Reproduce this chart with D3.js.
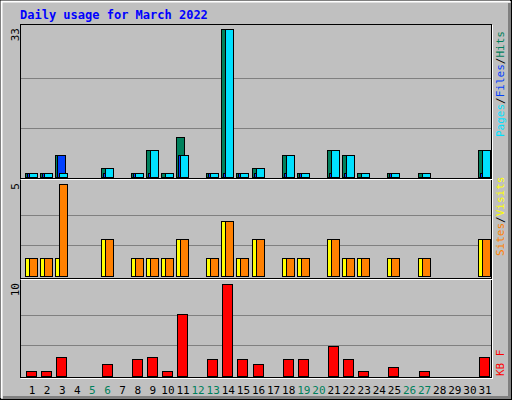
<!DOCTYPE html>
<html><head><meta charset="utf-8">
<script src="https://cdn.jsdelivr.net/npm/d3@7"></script>
<style>body{margin:0;background:#fff}svg{display:block}text{font-family:"DejaVu Sans Mono",monospace}</style>
</head><body>
<script>
const days = d3.range(1, 32);
const weekends = [5,6,12,13,19,20,26,27];
const hits   = [1,1,5,0,0,2,0,1,6,1,9,0,1,33,1,2,0,5,1,0,6,5,1,0,1,0,1,0,0,0,6];
const files  = [1,1,5,0,0,1,0,1,1,0,5,0,1,1,1,1,0,1,1,0,1,1,0,0,1,0,0,0,0,0,1];
const pages  = [1,1,1,0,0,2,0,1,6,1,5,0,1,33,1,2,0,5,1,0,6,5,1,0,1,0,1,0,0,0,6];
const sites  = [1,1,1,0,0,2,0,1,1,1,2,0,1,3,1,2,0,1,1,0,2,1,1,0,1,0,1,0,0,0,2];
const visits = [1,1,5,0,0,2,0,1,1,1,2,0,1,3,1,2,0,1,1,0,2,1,1,0,1,0,1,0,0,0,2];
const kbytes = [0.5,0.5,2.1,0,0,1.3,0,1.8,2.1,0.5,6.7,0,1.8,10,1.8,1.3,0,1.8,1.8,0,3.3,1.8,0.5,0,1.0,0,0.5,0,0,0,2.1];
const maxTicks = ["33","5","10"];

const W=512,H=400;
const svg=d3.select("body").append("svg").attr("width",W).attr("height",H);
svg.append("rect").attr("width",W).attr("height",H).attr("fill","#C0C0C0");
// frame
svg.append("rect").attr("x",0.5).attr("y",0.5).attr("width",W-1).attr("height",H-1).attr("fill","none").attr("stroke","#000");
svg.append("path").attr("d","M1.5,398V1.5H510").attr("stroke","#fff").attr("stroke-width",2).attr("fill","none");
svg.append("path").attr("d","M509.5,3V397.5H3").attr("stroke","#808080").attr("stroke-width",3).attr("fill","none");

svg.append("text").attr("x",20).attr("y",19).attr("fill","#0000FF").attr("font-size",12).attr("font-weight","bold").text("Daily usage for March 2022");

const x=d3.scaleLinear().domain([1,31]).range([25,478]);
const L=20.5,R=491.5;
const panels=[{top:25,bot:177,max:33},{top:180,bot:276,max:5},{top:280,bot:376,max:10}];
panels.forEach((p,i)=>{
  p.y=d3.scaleLinear().domain([0,p.max]).range([p.bot,p.top+ (i==0?4:4)]);
  [1,2].forEach(k=>{const yy=Math.round(p.bot-(p.bot-p.top-4)*k/3)+0.5;
    svg.append("line").attr("x1",L).attr("x2",R).attr("y1",yy).attr("y2",yy).attr("stroke","#808080");});
  svg.append("text").attr("transform",`translate(19,${p.top+3}) rotate(-90)`).attr("text-anchor","end")
    .attr("font-size",11).attr("fill","#000").text(maxTicks[i]);
});
// borders
svg.append("rect").attr("x",L).attr("y",24.5).attr("width",R-L).attr("height",353).attr("fill","none").attr("stroke","#000");
[178.5,278.5].forEach(yy=>{svg.append("line").attr("x1",L).attr("x2",R).attr("y1",yy).attr("y2",yy).attr("stroke","#000");
  svg.append("line").attr("x1",L).attr("x2",R+1).attr("y1",yy+1).attr("y2",yy+1).attr("stroke","#fff");});
svg.append("line").attr("x1",L).attr("x2",R+1).attr("y1",378.5).attr("y2",378.5).attr("stroke","#fff");
svg.append("line").attr("x1",R+1).attr("x2",R+1).attr("y1",25).attr("y2",379).attr("stroke","#fff");

function bars(data,p,off,w,color){
  svg.append("g").selectAll("rect").data(data.map((v,i)=>({v,d:days[i]})).filter(o=>o.v>0)).join("rect")
    .attr("x",o=>Math.round(x(o.d))+off+0.5).attr("width",w)
    .attr("y",o=>Math.round(p.y(o.v))+0.5).attr("height",o=>p.bot-Math.round(p.y(o.v)))
    .attr("fill",color).attr("stroke","#000");
}
bars(hits,panels[0],0,8,"#00805C");
bars(files,panels[0],2,8,"#0040FF");
bars(pages,panels[0],4,8,"#00E0FF");
bars(sites,panels[1],0,8,"#FFFF00");
bars(visits,panels[1],4,8,"#FF8000");
bars(kbytes,panels[2],1,10,"#FF0000");

svg.append("g").selectAll("text").data(days).join("text")
  .attr("x",d=>x(d)+7).attr("y",394).attr("text-anchor","middle").attr("font-size",11)
  .attr("fill",d=>weekends.includes(d)?"#00805C":"#000").text(d=>d);

function side(y0,parts){
  const t=svg.append("text").attr("transform",`translate(504,${y0}) rotate(-90)`).attr("font-size",11);
  parts.forEach(([s,c])=>t.append("tspan").attr("fill",c).text(s));
}
side(137,[["Pages","#00E0FF"],["/","#000"],["Files","#0040FF"],["/","#000"],["Hits","#00805C"]]);
side(256,[["Sites","#FF8000"],["/","#000"],["Visits","#FFFF00"]]);
side(376,[["KB F","#FF0000"]]);
</script>
</body></html>
